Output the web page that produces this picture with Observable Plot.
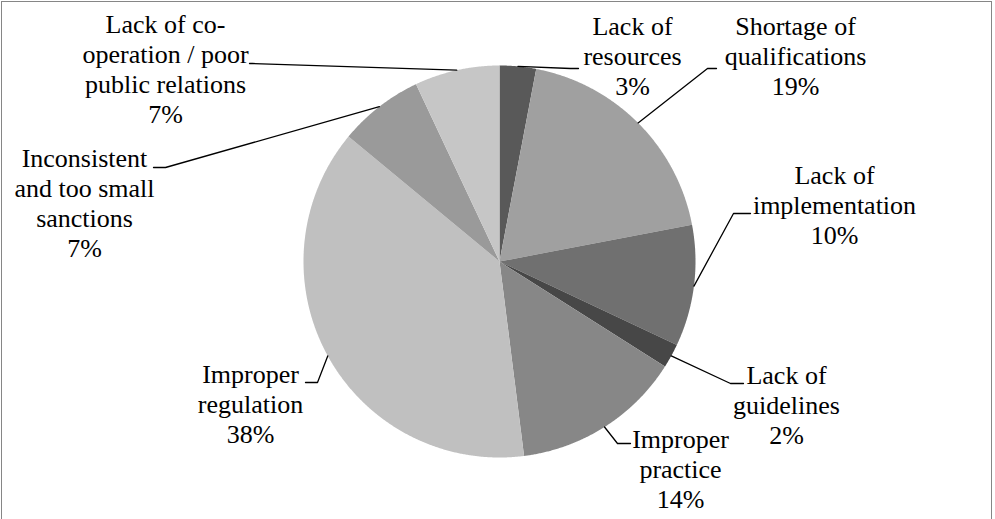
<!DOCTYPE html>
<html>
<head>
<meta charset="utf-8">
<script src="https://cdn.jsdelivr.net/npm/d3@7"></script>
<script src="https://cdn.jsdelivr.net/npm/@observablehq/plot@0.6"></script>
<style>
  html, body { margin: 0; padding: 0; background: #fff; }
  #chart { position: relative; width: 995px; height: 519px; overflow: hidden; }
  #chart .border {
    position: absolute; left: 1px; top: 1px; width: 991px; height: 700px;
    border: 1px solid #868686; box-sizing: border-box; pointer-events: none;
  }
  #chart svg { position: absolute; left: 0; top: 0; }
</style>
</head>
<body>
<div id="chart"><div class="border"></div></div>
<script>
// Reported causes, clockwise from 12 o'clock, with their shares in percent
const categories = [
  "Lack of resources",
  "Shortage of qualifications",
  "Lack of implementation",
  "Lack of guidelines",
  "Improper practice",
  "Improper regulation",
  "Inconsistent and too small sanctions",
  "Lack of co-operation / poor public relations"
];
const shares = [3, 19, 10, 2, 14, 38, 7, 7];

// How each category name breaks over lines in its label
const labelLines = [
  ["Lack of", "resources"],
  ["Shortage of", "qualifications"],
  ["Lack of", "implementation"],
  ["Lack of", "guidelines"],
  ["Improper", "practice"],
  ["Improper", "regulation"],
  ["Inconsistent", "and too small", "sanctions"],
  ["Lack of co-", "operation / poor", "public relations"]
];

// Grey fill of each slice
const shades = ["#595959", "#a0a0a0", "#707070", "#474747", "#878787", "#c0c0c0", "#9a9a9a", "#c6c6c6"];

// Page layout (pixels)
const W = 995, H = 519;
const pie = {cx: 499, cy: 261, r: 196};
const font = {family: "Liberation Serif", size: 26, lineGap: 30};

// Label placement: centre x, first baseline, and the leader line's elbow and end
const labelLayout = [
  {x: 632, baseline: 34,  elbow: [570, 68],  end: [578, 68]},
  {x: 795, baseline: 34,  elbow: [707, 68],  end: [716, 68]},
  {x: 834, baseline: 183, elbow: [733, 213], end: [750, 213]},
  {x: 786, baseline: 383, elbow: [730, 383], end: [743, 383]},
  {x: 680, baseline: 447, elbow: [617, 443], end: [630, 443]},
  {x: 250, baseline: 382, elbow: [317, 382], end: [305, 382]},
  {x: 84,  baseline: 166, elbow: [165, 167], end: [153, 167]},
  {x: 165, baseline: 32,  elbow: [252, 63],  end: [249, 63]}
];

const rows = categories.map((name, i) => ({name, share: shares[i], lines: labelLines[i], layout: labelLayout[i]}));
const arcs = d3.pie().sort(null).value(d => d.share)(rows);

const polar = (angle, radius) => [pie.cx + radius * Math.sin(angle), pie.cy - radius * Math.cos(angle)];

// Wedge outlines: centre, points along the arc, back to centre
const slicePoints = arcs.flatMap(a => {
  const name = a.data.name;
  const steps = Math.max(4, Math.ceil((a.endAngle - a.startAngle) / 0.005));
  const pts = [{name, x: pie.cx, y: pie.cy}];
  for (let k = 0; k <= steps; ++k) {
    const [x, y] = polar(a.startAngle + (a.endAngle - a.startAngle) * k / steps, pie.r);
    pts.push({name, x, y});
  }
  pts.push({name, x: pie.cx, y: pie.cy});
  return pts;
});

// Leader lines from the middle of each slice's rim to its label
const leaderPoints = arcs.flatMap(a => {
  const name = a.data.name, L = a.data.layout;
  const [x0, y0] = polar((a.startAngle + a.endAngle) / 2, pie.r);
  return [
    {name, x: x0, y: y0},
    {name, x: L.elbow[0], y: L.elbow[1]},
    {name, x: L.end[0], y: L.end[1]}
  ];
});

// One text row per label line, so every line is its own text element
const labelRows = rows.flatMap(d => {
  const lines = [...d.lines, `${d.share}%`];
  return lines.map((line, k) => ({
    name: d.name,
    text: line,
    x: d.layout.x,
    y: d.layout.baseline + k * font.lineGap
  }));
});

const chart = Plot.plot({
  width: W,
  height: H,
  margin: 0,
  x: {domain: [0, W], range: [0, W], axis: null},
  y: {domain: [0, H], range: [0, H], axis: null},
  color: {domain: categories, range: shades},
  style: {background: "transparent", overflow: "visible"},
  marks: [
    Plot.line(slicePoints, {x: "x", y: "y", z: "name", fill: "name", stroke: "none", curve: "linear"}),
    Plot.line(leaderPoints, {x: "x", y: "y", z: "name", stroke: "#000", strokeWidth: 1.3, curve: "linear"}),
    Plot.text(labelRows, {
      x: "x", y: "y", text: "text",
      fill: "#000",
      fontFamily: font.family,
      fontSize: font.size,
      lineAnchor: "bottom",
      textAnchor: "middle"
    })
  ]
});

document.getElementById("chart").appendChild(chart);
</script>
</body>
</html>
